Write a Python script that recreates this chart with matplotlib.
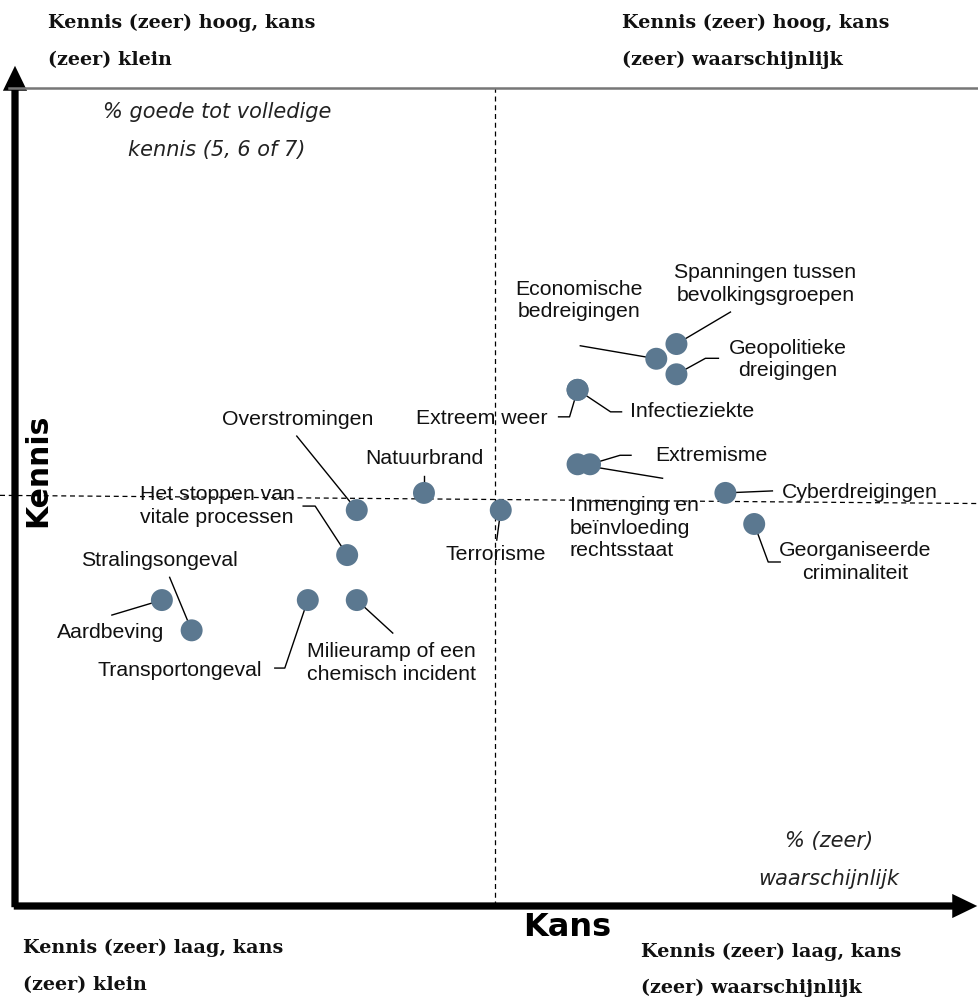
import matplotlib
matplotlib.use('Agg')
import matplotlib.pyplot as plt
from matplotlib.patches import FancyArrowPatch
import numpy as np

# risks: kans (x, % likely) and kennis (y, % good knowledge), arbitrary 0-100 scale
names = ['Spanningen tussen\nbevolkingsgroepen', 'Economische\nbedreigingen',
         'Geopolitieke\ndreigingen', 'Extreem weer', 'Infectieziekte',
         'Inmenging en\nbeïnvloeding\nrechtsstaat', 'Extremisme', 'Cyberdreigingen',
         'Georganiseerde\ncriminaliteit', 'Natuurbrand', 'Terrorisme',
         'Overstromingen', 'Het stoppen van\nvitale processen', 'Stralingsongeval',
         'Aardbeving', 'Transportongeval', 'Milieuramp of een\nchemisch incident']
kans = [68.9, 66.8, 68.9, 58.6, 58.6, 58.6, 59.9, 74.0, 77.0,
        42.6, 50.6, 35.6, 34.6, 18.4, 15.3, 30.5, 35.6]
kennis = [68.7, 66.9, 65.0, 63.1, 63.1, 54.0, 54.0, 50.5, 46.7,
          50.5, 48.4, 48.4, 42.9, 33.7, 37.4, 37.4, 37.4]

# label placement, in pixels relative to the dot: (dx, dy, ha)
label_pos = [(89, -60, 'center'), (-77, -58, 'center'), (111, -15, 'center'),
             (-30, 29, 'right'), (52, 22, 'left'), (-8, 64, 'left'), (65, -9, 'left'),
             (56, 0, 'left'), (101, 38, 'center'), (0, -34, 'center'), (-5, 44, 'center'),
             (-59, -91, 'center'), (-130, -49, 'center'), (-32, -70, 'center'),
             (-51, 32, 'center'), (-128, 70, 'center'), (35, 63, 'center')]
# leader lines, pixel offsets from the dot
leaders = [[(0, 0), (54, -32)], [(0, 0), (-76, -13)], [(0, 0), (29, -16), (42, -16)],
           [(0, 0), (-8, 27), (-19, 27)], [(0, 0), (33, 22), (44, 22)],
           [(0, 0), (85, 14)], [(0, 0), (30, -9), (41, -9)], [(0, 0), (47, -2)],
           [(0, 0), (14, 38), (26, 38)], [(0, 0), (0, -17)], [(0, 0), (-4, 30)],
           [(0, 0), (-60, -74)], [(0, 0), (-32, -49), (-44, -49)], [(0, 0), (-22, -53)],
           [(0, 0), (-50, 15)], [(0, 0), (-23, 68), (-33, 68)], [(0, 0), (36, 33)]]

kans_split = 50.0
kennis_split = [50.2, 49.2]  # dashed line runs slightly downward

W, H = 979, 1000
fig = plt.figure(figsize=(W / 100, H / 100), dpi=100)
left, right, top, bottom = 15, 975, 88, 906
ax = fig.add_axes([left / W, 1 - bottom / H, (right - left) / W, (bottom - top) / H])
ax.set_xlim(0, 100)
ax.set_ylim(0, 100)
ax.axis('off')

sx = 100 / (right - left)
sy = 100 / (bottom - top)

# quadrant split lines
ax.plot([kans_split, kans_split], [0, 100], ls=(0, (4, 3)), color='black', lw=0.9)
ax.plot([-15 * sx, 100 + 4 * sx], kennis_split, ls=(0, (4, 3)), color='black', lw=0.9,
        clip_on=False)

# top grey border
ax.plot([-6 * sx, 100 + 4 * sx], [100, 100], color='#777777', lw=1.8, clip_on=False)

# axes arrows
style = 'simple,head_length=0.62,head_width=0.6,tail_width=0.18'
ax.add_patch(FancyArrowPatch((-4 * sx, 0), (100 + 5 * sx, 0), arrowstyle=style,
                             mutation_scale=29, color='black', lw=0,
                             transform=ax.transData, clip_on=False))
ax.add_patch(FancyArrowPatch((0, -4 * sy), (0, 100 + 25 * sy), arrowstyle=style,
                             mutation_scale=29, color='black', lw=0,
                             transform=ax.transData, clip_on=False))

# leaders and labels
lab_font = dict(family='Liberation Sans', fontsize=15.3, color='#111111',
                linespacing=1.22)
for i in range(len(names)):
    pts = np.array(leaders[i], dtype=float)
    ax.plot(kans[i] + pts[:, 0] * sx, kennis[i] - pts[:, 1] * sy, color='black',
            lw=1.0, zorder=3)
    dx, dy, ha = label_pos[i]
    ax.text(kans[i] + dx * sx, kennis[i] - dy * sy, names[i], ha=ha, va='center',
            zorder=2, **lab_font)

ax.scatter(kans, kennis, s=250, color='#5b7890', edgecolors='none', zorder=4)

# axis titles
fig.text(567 / W, 1 - 927 / H, 'Kans', ha='center', va='center',
         family='DejaVu Sans', weight='bold', fontsize=23)
fig.text(38 / W, 1 - 470 / H, 'Kennis', ha='center', va='center', rotation=90,
         family='DejaVu Sans', weight='bold', fontsize=21.5)

# quadrant captions
qfont = dict(family='DejaVu Serif', weight='bold', fontsize=13.8, color='#111111')
fig.text(48 / W, 1 - 23 / H, 'Kennis (zeer) hoog, kans', va='center', **qfont)
fig.text(48 / W, 1 - 60 / H, '(zeer) klein', va='center', **qfont)
fig.text(622 / W, 1 - 23 / H, 'Kennis (zeer) hoog, kans', va='center', **qfont)
fig.text(622 / W, 1 - 60 / H, '(zeer) waarschijnlijk', va='center', **qfont)
fig.text(23 / W, 1 - 948 / H, 'Kennis (zeer) laag, kans', va='center', **qfont)
fig.text(23 / W, 1 - 985 / H, '(zeer) klein', va='center', **qfont)
fig.text(641 / W, 1 - 952 / H, 'Kennis (zeer) laag, kans', va='center', **qfont)
fig.text(641 / W, 1 - 988 / H, '(zeer) waarschijnlijk', va='center', **qfont)

ifont = dict(family='DejaVu Sans', style='italic', fontsize=15, color='#222222')
fig.text(217 / W, 1 - 112 / H, '% goede tot volledige', ha='center', va='center', **ifont)
fig.text(217 / W, 1 - 150 / H, 'kennis (5, 6 of 7)', ha='center', va='center', **ifont)
fig.text(829 / W, 1 - 841 / H, '% (zeer)', ha='center', va='center', **ifont)
fig.text(829 / W, 1 - 879 / H, 'waarschijnlijk', ha='center', va='center', **ifont)

fig.savefig('out.png', dpi=100)
